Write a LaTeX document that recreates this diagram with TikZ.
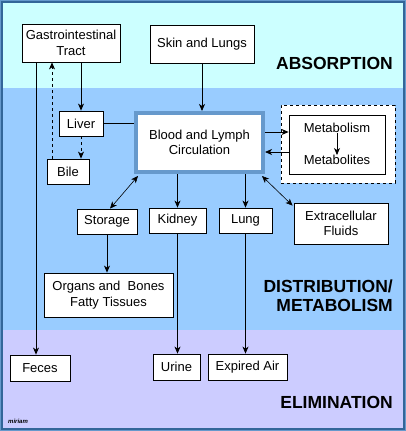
\documentclass[tikz,border=0pt]{standalone}
\usepackage{fontspec}
\setmainfont{Liberation Sans}
\usetikzlibrary{arrows.meta}
\definecolor{frameblue}{HTML}{336699}
\definecolor{framelight}{HTML}{6699CC}
\definecolor{bandcyan}{HTML}{CCFFFF}
\definecolor{bandblue}{HTML}{99CCFF}
\definecolor{bandlav}{HTML}{CCCCFF}
\definecolor{bloodborder}{HTML}{6699CC}
\tikzset{
  box/.style={draw=black, line width=0.8pt, fill=white, inner sep=0pt, align=center,
    font=\fontsize{13}{15.7}\selectfont},
  plain/.style={inner sep=0pt, align=center, font=\fontsize{13}{15.7}\selectfont},
  phase/.style={inner sep=0pt, align=right, anchor=east, font=\fontsize{17.5}{19}\selectfont\bfseries},
  conn/.style={line width=0.8pt, -{Stealth[length=7pt,width=6pt,inset=2pt]}},
  conn2/.style={line width=0.6pt, {Stealth[length=7pt,width=6pt,inset=2pt]}-{Stealth[length=7pt,width=6pt,inset=2pt]}},
  line/.style={line width=0.8pt},
}
\begin{document}
\begin{tikzpicture}[x=1pt,y=-1pt]
\useasboundingbox (0,0) rectangle (406,431);
% frame and bands
\fill[frameblue] (0,0) rectangle (406,431);
\draw[framelight, line width=1pt] (0.5,0.5) rectangle (405.5,430.5);
\fill[bandcyan] (3,3) rectangle (403,88);
\fill[bandblue] (3,88) rectangle (403,330);
\fill[bandlav] (3,330) rectangle (403,428);

% phase labels
\node[phase] (absorption) at (393,63) {ABSORPTION};
\node[phase] (distribution) at (393,295.5) {DISTRIBUTION/\\METABOLISM};
\node[phase] (elimination) at (393,402) {ELIMINATION};
\node[inner sep=0pt, anchor=west, font=\fontsize{6}{6}\selectfont\bfseries\itshape] (sig) at (8,421) {miriam};

% nodes
\node[box, minimum width=98pt, minimum height=38pt] (gi) at (71,43) {Gastrointestinal\\Tract};
\node[box, minimum width=104pt, minimum height=38pt] (skin) at (202,44) {Skin and Lungs};
\node[box, minimum width=44pt, minimum height=25pt] (liver) at (81,123.5) {Liver};
\node[box, minimum width=42pt, minimum height=25pt] (bile) at (68,171.5) {Bile};
\node[box, draw=bloodborder, line width=4pt, minimum width=127pt, minimum height=59pt] (blood) at (199.5,142.5) {Blood and Lymph\\Circulation};
\node[box, dashed, minimum width=114pt, minimum height=78pt] (dashbox) at (338,144) {};
\node[box, minimum width=96pt, minimum height=59pt] (metab) at (337,144.5) {};
\node[plain] (mtext) at (337,128) {Metabolism};
\node[plain] (mtext2) at (337,160) {Metabolites};
\node[box, minimum width=60pt, minimum height=25pt] (storage) at (107,221.5) {Storage};
\node[box, minimum width=57pt, minimum height=25pt] (kidney) at (177.5,220.5) {Kidney};
\node[box, minimum width=53pt, minimum height=25pt] (lung) at (245.5,220.5) {Lung};
\node[box, minimum width=94pt, minimum height=41pt] (extra) at (341,223.5) {Extracellular\\Fluids};
\node[box, minimum width=129pt, minimum height=44pt] (organs) at (108.5,295) {Organs and\ \ Bones\\Fatty Tissues};
\node[box, minimum width=60pt, minimum height=26pt] (feces) at (40,368) {Feces};
\node[box, minimum width=47pt, minimum height=26pt] (urine) at (176.5,367) {Urine};
\node[box, minimum width=79pt, minimum height=26pt] (expired) at (247.5,367) {Expired Air};

% connectors
\draw[conn] (liver.north |- gi.south) -- (liver.north);
\draw[conn] (skin.south) -- (skin.south |- blood.north);
\draw[line] (liver.east) -- (liver.east -| blood.west);
\draw[conn, dashed] (liver.south) -- (liver.south |- bile.north);
\draw[conn, dashed] ([xshift=-16pt]bile.north) -- ([xshift=-16pt]bile.north |- gi.south);
\draw[conn] ([xshift=-4pt]feces.north |- gi.south) -- ([xshift=-4pt]feces.north);
\draw[conn2] ([xshift=4pt,yshift=-2pt]blood.south west) -- ([xshift=3pt]storage.north);
\draw[conn] (kidney.north |- blood.south) -- (kidney.north);
\draw[conn] (lung.north |- blood.south) -- (lung.north);
\draw[conn2] ([xshift=-3pt,yshift=-2pt]blood.south east) -- ([xshift=-1pt,yshift=-3pt]extra.north west);
\draw[conn] ([yshift=10.5pt]blood.east) -- ([yshift=10.5pt]blood.east -| metab.west);
\draw[conn] ([yshift=-9.5pt]blood.east -| metab.west) -- ([yshift=-9.5pt]blood.east);
\draw[conn] (mtext.south) -- (mtext2.north);
\draw[conn] (storage.south) -- (storage.south |- organs.north);
\draw[conn] (kidney.south) -- (kidney.south |- urine.north);
\draw[conn] (lung.south) -- (lung.south |- expired.north);
\end{tikzpicture}
\end{document}
